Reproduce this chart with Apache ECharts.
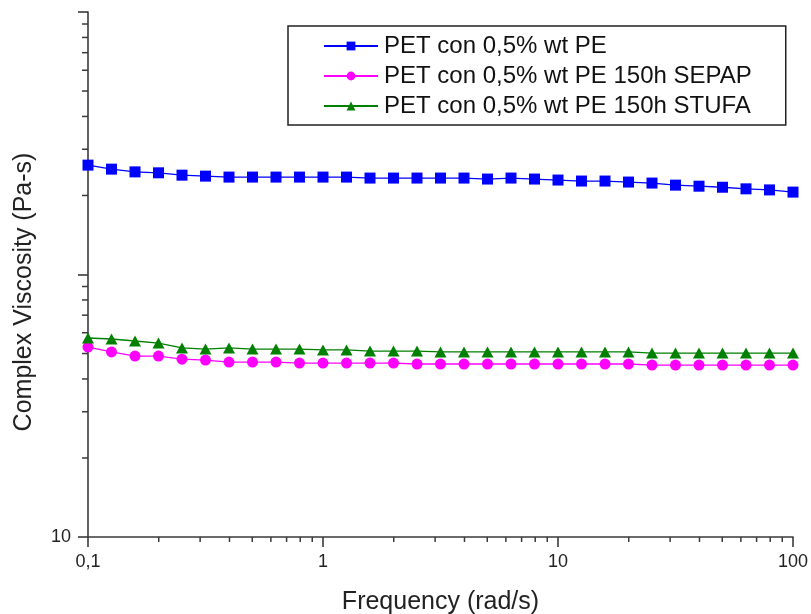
<!DOCTYPE html>
<html>
<head>
<meta charset="utf-8">
<script src="https://cdn.jsdelivr.net/npm/echarts@6/dist/echarts.min.js"></script>
<style>
  html, body { margin: 0; padding: 0; background: #ffffff; }
  #chart { width: 811px; height: 614px; }
</style>
</head>
<body>
<div id="chart"></div>
<script>
// Angular frequency (rad/s), 10 points per decade
const frequency = [0.1, 0.1259, 0.1585, 0.1995, 0.2512, 0.3162, 0.3981, 0.5012, 0.631, 0.7943,
  1, 1.259, 1.585, 1.995, 2.512, 3.162, 3.981, 5.012, 6.31, 7.943,
  10, 12.59, 15.85, 19.95, 25.12, 31.62, 39.81, 50.12, 63.1, 79.43, 100];

// Complex viscosity (Pa-s)
const viscPE = [261, 252, 246, 244, 239, 237, 235, 235, 235, 235, 235, 235, 233, 233, 233, 233,
  233, 231, 233, 231, 229, 227, 227, 225, 223, 219, 217, 215, 212, 210, 206];
const viscSEPAP = [52.9, 50.7, 48.9, 48.9, 47.6, 47.2, 46.4, 46.4, 46.4, 46.0, 46.0, 46.0, 46.0,
  46.0, 45.6, 45.6, 45.6, 45.6, 45.6, 45.6, 45.6, 45.6, 45.6, 45.6, 45.2, 45.2, 45.2, 45.2, 45.2, 45.2, 45.2];
const viscSTUFA = [57.3, 56.8, 55.8, 54.8, 52.5, 52.0, 52.5, 52.0, 52.0, 52.0, 51.6, 51.6, 51.1,
  51.1, 51.1, 50.7, 50.7, 50.7, 50.7, 50.7, 50.7, 50.7, 50.7, 50.7, 50.2, 50.2, 50.2, 50.2, 50.2, 50.2, 50.2];

const seriesNames = ['PET con 0,5% wt PE', 'PET con 0,5% wt PE 150h SEPAP', 'PET con 0,5% wt PE 150h STUFA'];

// Axis ranges and intermediate (minor) tick values of the log scales
const xRange = [0.1, 100];
const yRange = [10, 1000];
const xMinorTicks = [0.2, 0.3, 0.4, 0.5, 0.6, 0.7, 0.8, 0.9, 2, 3, 4, 5, 6, 7, 8, 9, 20, 30, 40, 50, 60, 70, 80, 90];
const yMinorTicks = [20, 30, 40, 50, 60, 70, 80, 90, 200, 300, 400, 500, 600, 700, 800, 900];

const axisColor = '#3a3a3a';
const fontFamily = '"Liberation Sans", Arial, sans-serif';

function pairs(xs, ys) { return xs.map((x, i) => [x, ys[i]]); }

// Short tick marks at the 2..9 positions of each decade
function minorTickSeries(data, dir) {
  return {
    type: 'custom',
    coordinateSystem: 'cartesian2d',
    silent: true,
    clip: false,
    z: 5,
    data: data,
    renderItem: function (params, api) {
      const p = api.coord([api.value(0), api.value(1)]);
      const shape = dir === 'x'
        ? { x1: p[0], y1: p[1], x2: p[0], y2: p[1] + 5 }
        : { x1: p[0], y1: p[1], x2: p[0] - 6, y2: p[1] };
      return { type: 'line', shape: shape, style: { stroke: axisColor, lineWidth: 1.5 } };
    }
  };
}

const chart = echarts.init(document.getElementById('chart'), null, { renderer: 'canvas' });

chart.setOption({
  backgroundColor: '#ffffff',
  animation: false,
  grid: { left: 88, right: 18, top: 12, bottom: 77, containLabel: false, outerBoundsMode: 'none' },
  legend: {
    data: seriesNames,
    orient: 'vertical',
    left: 288,
    top: 26,
    backgroundColor: '#ffffff',
    borderColor: '#222',
    borderWidth: 1.5,
    borderRadius: 0,
    padding: [8, 34, 7, 35],
    itemWidth: 54,
    itemHeight: 11,
    itemGap: 6,
    align: 'left',
    textStyle: { fontFamily: fontFamily, fontSize: 24, color: '#111', lineHeight: 24, padding: [0, 0, 0, 1] }
  },
  xAxis: {
    type: 'log',
    logBase: 10,
    min: xRange[0],
    max: xRange[1],
    name: 'Frequency (rad/s)',
    nameLocation: 'middle',
    nameGap: 53,
    nameTextStyle: { fontFamily: fontFamily, fontSize: 25, color: '#222' },
    axisLine: { show: true, lineStyle: { color: axisColor, width: 1.6 } },
    axisTick: { show: true, inside: false, length: 10, lineStyle: { color: axisColor, width: 1.6 } },
    axisLabel: {
      margin: 16,
      fontFamily: fontFamily,
      fontSize: 18,
      color: '#222',
      formatter: function (v) { return String(v).replace('.', ','); }
    },
    splitLine: { show: false }
  },
  yAxis: {
    type: 'log',
    logBase: 10,
    min: yRange[0],
    max: yRange[1],
    axisLine: { show: true, lineStyle: { color: axisColor, width: 1.6 } },
    axisTick: { show: true, inside: false, length: 10, lineStyle: { color: axisColor, width: 1.6 } },
    axisLabel: {
      margin: 17,
      fontFamily: fontFamily,
      fontSize: 18,
      color: '#222',
      formatter: function (v) { return v === 10 ? '10' : ''; }
    },
    splitLine: { show: false }
  },
  graphic: [{
    type: 'text',
    rotation: Math.PI / 2,
    x: 24,
    y: 292,
    style: {
      text: 'Complex Viscosity (Pa-s)',
      fontFamily: fontFamily,
      fontSize: 25,
      fill: '#222',
      align: 'center',
      verticalAlign: 'middle'
    }
  }],
  series: [
    {
      name: seriesNames[0], type: 'line', data: pairs(frequency, viscPE),
      symbol: 'rect', symbolSize: 11, color: '#0000ff',
      lineStyle: { width: 1.3, color: '#0000ff' }, itemStyle: { color: '#0000ff' }, z: 3
    },
    {
      name: seriesNames[1], type: 'line', data: pairs(frequency, viscSEPAP),
      symbol: 'circle', symbolSize: 11, color: '#ff00ff',
      lineStyle: { width: 1.3, color: '#ff00ff' }, itemStyle: { color: '#ff00ff' }, z: 3
    },
    {
      name: seriesNames[2], type: 'line', data: pairs(frequency, viscSTUFA),
      symbol: 'triangle', symbolSize: [12, 11], color: '#008000',
      lineStyle: { width: 1.3, color: '#008000' }, itemStyle: { color: '#008000' }, z: 3
    },
    minorTickSeries(xMinorTicks.map(v => [v, yRange[0]]), 'x'),
    minorTickSeries(yMinorTicks.map(v => [xRange[0], v]), 'y')
  ]
});
</script>
</body>
</html>
